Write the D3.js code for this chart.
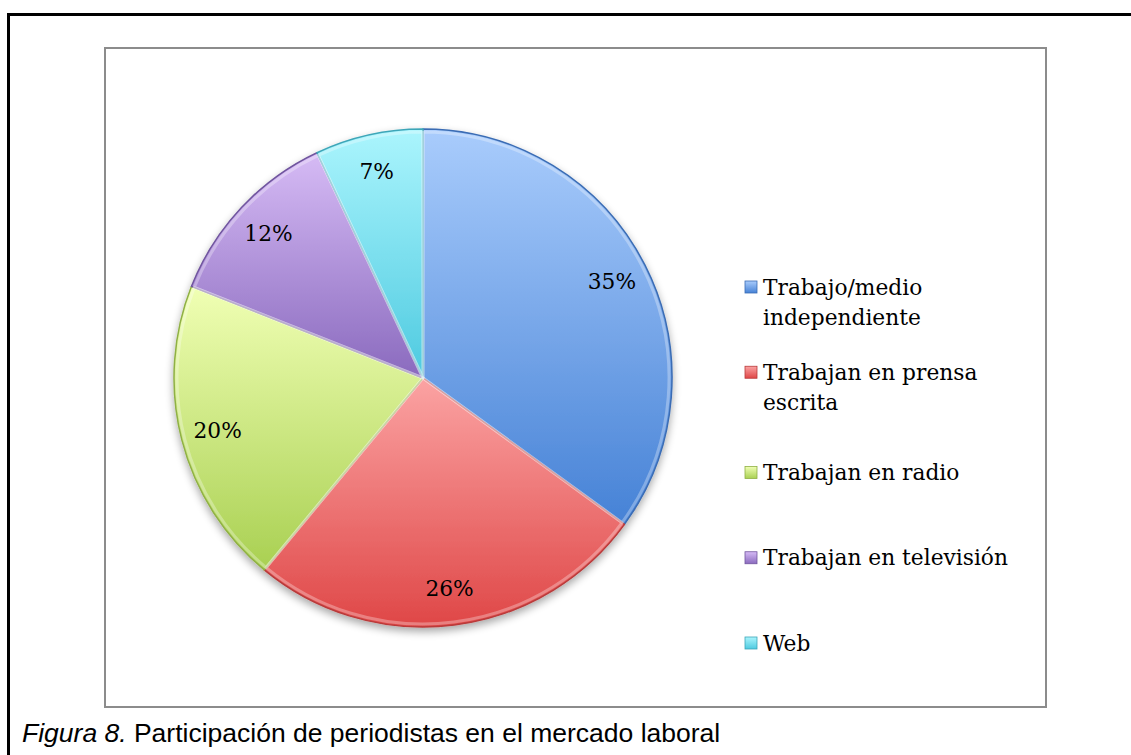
<!DOCTYPE html>
<html>
<head>
<meta charset="utf-8">
<script src="https://cdn.jsdelivr.net/npm/d3@7"></script>
<style>
  body { margin: 0; background: #fff; }
  svg { display: block; }
</style>
</head>
<body>
<script>
const w = 1131;
const h = 755;

// chart data
const categories = ["Trabajo/medio independiente", "Trabajan en prensa escrita", "Trabajan en radio", "Trabajan en televisión", "Web"];
const values = [35, 26, 20, 12, 7];
const legendLines = [["Trabajo/medio", "independiente"], ["Trabajan en prensa", "escrita"], ["Trabajan en radio"], ["Trabajan en televisión"], ["Web"]];
const caption = ["Figura 8.", " Participación de periodistas en el mercado laboral"];

// light (top) / dark (bottom) tones per slice
const lightColors = ["#a9ccfc", "#fba3a3", "#f0ffb4", "#d6bbf5", "#abf5fd"];
const darkColors = ["#4682d6", "#df4747", "#a9d052", "#8a6abe", "#4ecae0"];
const edgeColors = ["#3a6cb4", "#b83a3a", "#8fb044", "#70559e", "#3ea6b8"];

const cx = 423, cy = 378, r = 249;

const svg = d3.select("body")
  .append("svg")
  .attr("width", w)
  .attr("height", h)
  .attr("font-family", "'DejaVu Serif', 'Liberation Serif', serif");

const defs = svg.append("defs");

lightColors.forEach((c, i) => {
  const g = defs.append("linearGradient")
    .attr("id", "grad" + i)
    .attr("x1", 0).attr("y1", 0)
    .attr("x2", 0).attr("y2", 1);
  g.append("stop").attr("offset", "0%").attr("stop-color", c);
  g.append("stop").attr("offset", "100%").attr("stop-color", darkColors[i]);
});

const shadow = defs.append("filter")
  .attr("id", "shadow")
  .attr("x", "-10%").attr("y", "-10%")
  .attr("width", "120%").attr("height", "125%");
shadow.append("feGaussianBlur").attr("in", "SourceAlpha").attr("stdDeviation", 4);
shadow.append("feOffset").attr("dx", 0).attr("dy", 4).attr("result", "off");
shadow.append("feComponentTransfer").append("feFuncA").attr("type", "linear").attr("slope", 0.35);
const merge = shadow.append("feMerge");
merge.append("feMergeNode");
merge.append("feMergeNode").attr("in", "SourceGraphic");

// outer page frame
svg.append("rect")
  .attr("x", 8.5).attr("y", 14.5)
  .attr("width", w + 20).attr("height", h + 20)
  .attr("fill", "none")
  .attr("stroke", "#000")
  .attr("stroke-width", 3);

// chart area frame
svg.append("rect")
  .attr("x", 105).attr("y", 48)
  .attr("width", 941).attr("height", 659)
  .attr("fill", "#fff")
  .attr("stroke", "#8c8c8c")
  .attr("stroke-width", 2);

const pie = d3.pie().sort(null).value(d => d)(values);
const arc = d3.arc().innerRadius(0).outerRadius(r);
const labelArc = d3.arc().innerRadius(212).outerRadius(212);

const g = svg.append("g")
  .attr("transform", "translate(" + cx + "," + cy + ")");

const slices = g.append("g").attr("filter", "url(#shadow)");

slices.selectAll("path")
  .data(pie)
  .enter()
  .append("path")
  .attr("d", arc)
  .attr("fill", (d, i) => "url(#grad" + i + ")")
  .attr("stroke", (d, i) => edgeColors[i])
  .attr("stroke-width", 1.5)
  .attr("stroke-linejoin", "round");

// soft bevel highlight on slice edges
g.selectAll(".bevel")
  .data(pie)
  .enter()
  .append("path")
  .attr("class", "bevel")
  .attr("d", d3.arc().innerRadius(0).outerRadius(r - 3))
  .attr("fill", "none")
  .attr("stroke", "#fff")
  .attr("stroke-opacity", 0.3)
  .attr("stroke-width", 3)
  .attr("stroke-linejoin", "round");

// fit serif size so legend width matches the reference
const probe = svg.append("text").attr("font-size", 100).text("Trabajan en televisión");
const fs = 100 * 245 / probe.node().getComputedTextLength();
probe.remove();

g.selectAll(".pct")
  .data(pie)
  .enter()
  .append("text")
  .attr("class", "pct")
  .attr("transform", d => "translate(" + labelArc.centroid(d) + ")")
  .attr("text-anchor", "middle")
  .attr("dy", "0.35em")
  .attr("font-size", fs)
  .attr("fill", "#000")
  .text(d => d.data + "%");

// legend
const legendY = d3.scalePoint()
  .domain(categories)
  .range([302, 643]);

const legend = svg.selectAll(".legend")
  .data(categories)
  .enter()
  .append("g")
  .attr("class", "legend")
  .attr("transform", d => "translate(745," + legendY(d) + ")");

legend.append("rect")
  .attr("x", 0)
  .attr("y", (d, i) => (legendLines[i].length - 1) * -15 - 6)
  .attr("width", 12)
  .attr("height", 12)
  .attr("fill", (d, i) => "url(#grad" + i + ")")
  .attr("stroke", (d, i) => edgeColors[i])
  .attr("stroke-width", 0.8);

legend.append("text")
  .attr("x", 18)
  .attr("font-size", fs)
  .attr("fill", "#000")
  .each(function(d, i) {
    const lines = legendLines[i];
    const t = d3.select(this);
    lines.forEach((ln, j) => {
      t.append("tspan")
        .attr("x", 18)
        .attr("y", (j - (lines.length - 1) / 2) * 30)
        .attr("dy", "0.35em")
        .text(ln);
    });
  });

// caption
const cap = svg.append("text")
  .attr("x", 22)
  .attr("y", 742)
  .attr("font-family", "'Liberation Sans', Arial, sans-serif")
  .attr("font-size", 26.5)
  .attr("fill", "#000");
cap.append("tspan").attr("font-style", "italic").text(caption[0]);
cap.append("tspan").text(caption[1]);
</script>
</body>
</html>
